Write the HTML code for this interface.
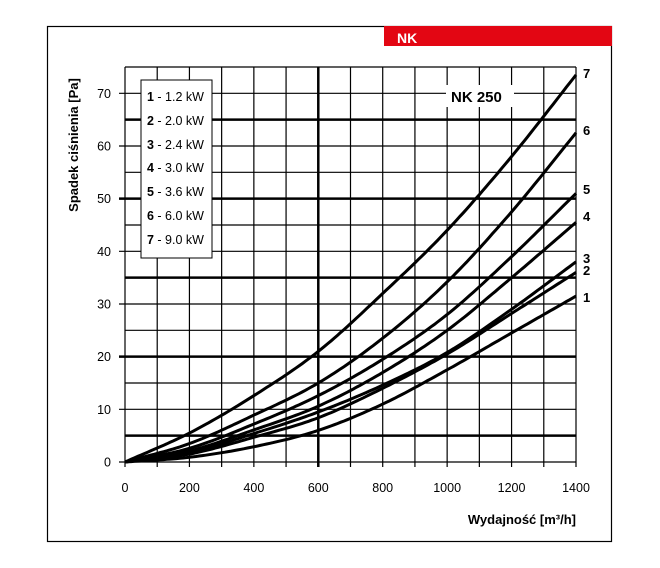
<!DOCTYPE html>
<html><head><meta charset="utf-8"><style>
body{margin:0;background:#fff;}
svg{display:block;font-family:"Liberation Sans","DejaVu Sans",sans-serif;}
</style></head><body>
<svg id="s" width="660" height="568" xmlns="http://www.w3.org/2000/svg">
<rect x="47.5" y="26.5" width="564" height="515" fill="#fff" stroke="#000" stroke-width="1.2"/>
<rect x="384" y="26" width="228" height="20" fill="#e30613"/>
<text x="397" y="43" font-size="14" font-weight="bold" fill="#fff">NK</text>
<g id="grid" stroke="#000"></g>
<g id="curves" fill="none" stroke="#000" stroke-width="3"></g>
<rect x="141" y="80" width="71" height="178" fill="#fff" stroke="#000" stroke-width="1"/>
<g font-size="12.5">
<text x="147" y="101"><tspan font-weight="bold">1</tspan> - 1.2 kW</text>
<text x="147" y="125"><tspan font-weight="bold">2</tspan> - 2.0 kW</text>
<text x="147" y="149"><tspan font-weight="bold">3</tspan> - 2.4 kW</text>
<text x="147" y="172"><tspan font-weight="bold">4</tspan> - 3.0 kW</text>
<text x="147" y="196"><tspan font-weight="bold">5</tspan> - 3.6 kW</text>
<text x="147" y="220"><tspan font-weight="bold">6</tspan> - 6.0 kW</text>
<text x="147" y="244"><tspan font-weight="bold">7</tspan> - 9.0 kW</text>
</g>
<rect x="446" y="85" width="68" height="22" fill="#fff"/>
<text x="451" y="102" font-size="15" font-weight="bold">NK 250</text>
<g font-size="13" font-weight="bold">
<text x="583" y="78">7</text><text x="583" y="135">6</text><text x="583" y="194">5</text>
<text x="583" y="221">4</text><text x="583" y="263">3</text><text x="583" y="275">2</text><text x="583" y="302">1</text>
</g>
<g id="ylab" font-size="12.5" text-anchor="end"></g>
<g id="xlab" font-size="12.5" text-anchor="middle"></g>
<text transform="translate(78,145) rotate(-90)" font-size="13" font-weight="bold" text-anchor="middle">Spadek ciśnienia [Pa]</text>
<text x="576" y="524" font-size="13" font-weight="bold" text-anchor="end">Wydajność [m³/h]</text>
</svg>
<script>
var NS="http://www.w3.org/2000/svg";
function X(v){return 125+v*451/1400;}
function Y(v){return 462-v*395/75;}
function el(p,t,a,txt){var e=document.createElementNS(NS,t);for(var k in a)e.setAttribute(k,a[k]);if(txt!=null)e.textContent=txt;p.appendChild(e);return e;}
var g=document.getElementById('grid');
for(var i=0;i<=14;i++){var x=X(i*100);el(g,'line',{x1:x,y1:67,x2:x,y2:467,'stroke-width':(i==6?2.5:1.2)});}
for(var j=0;j<=15;j++){var v=j*5,y=Y(v);var thick=[5,20,35,50,65].indexOf(v)>=0;el(g,'line',{x1:(j%2==0?119:125),y1:y,x2:576,y2:y,'stroke-width':thick?2.5:1.2});}
var yl=document.getElementById('ylab');
for(var v=0;v<=70;v+=10)el(yl,'text',{x:111,y:Y(v)+4.5},v);
var xl=document.getElementById('xlab');
for(var v=0;v<=1400;v+=200)el(xl,'text',{x:X(v),y:492},v);
var c=document.getElementById('curves');
var D=[
[0,0.9,2.9,6.0,11,17.5,24.5,31.5],
[0,1.5,4.7,8.4,14,20.5,28.2,36],
[0,1.8,5.4,9.5,14.6,20.8,29,38],
[0,2.1,6.1,10.6,17,25,35,45.5],
[0,2.6,7.2,12.6,19.5,28,39,51],
[0,3.5,8.9,15,23.5,34.2,47.5,62.5],
[0,5.5,12.6,21,32,44,58,73.5]];
D.forEach(function(p){var d='';var n=p.length;
 for(var k=0;k<n-1;k++){var p0=p[Math.max(k-1,0)],p1=p[k],p2=p[k+1],p3=p[Math.min(k+2,n-1)];
  if(k==0)p0=2*p1-p2; if(k==n-2)p3=2*p2-p1;
  for(var s=0;s<20;s++){var t=s/20;if(k>0&&s==0&&d)continue;
   var y=0.5*((2*p1)+(-p0+p2)*t+(2*p0-5*p1+4*p2-p3)*t*t+(-p0+3*p1-3*p2+p3)*t*t*t);
   var x=(k+t)*200;y=Math.max(0,y);d+=(d?'L':'M')+X(x).toFixed(1)+' '+Y(y).toFixed(1);}}
 d+='L'+X(1400).toFixed(1)+' '+Y(p[n-1]).toFixed(1);
 el(c,'path',{d:d});});
</script>
</body></html>
